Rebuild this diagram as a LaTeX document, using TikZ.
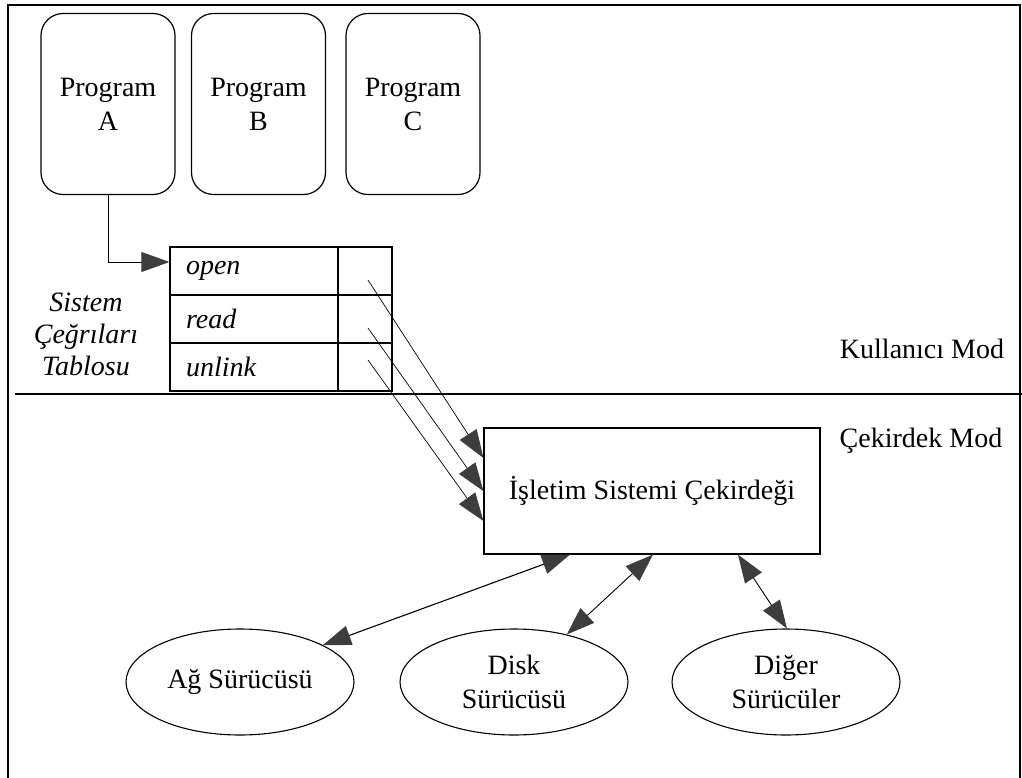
\documentclass[tikz,border=0pt]{standalone}
\usepackage{fontspec}
\setmainfont{Liberation Serif}
\usetikzlibrary{arrows.meta,shapes.geometric}
\tikzset{head/.tip={Triangle[length=28pt,width=20pt,fill=black!76,color=black!76]}}
\begin{document}
\begin{tikzpicture}[x=1pt,y=-1pt,
  txt/.style={font=\fontsize{28}{34}\selectfont},
  itxt/.style={font=\fontsize{28}{32}\selectfont\itshape},
  prog/.style={draw,line width=1.2pt,rounded corners=22pt,minimum width=134pt,
    minimum height=181pt,align=center,inner sep=0pt,txt},
  cell/.style={draw,line width=1.2pt,minimum height=48pt,inner sep=0pt},
  namecell/.style={cell,text width=136pt,inner xsep=16pt,align=left,itxt},
  ptrcell/.style={cell,minimum width=54pt},
  kernbox/.style={draw,line width=1.2pt,minimum width=336pt,minimum height=126pt,
    inner sep=0pt,txt},
  drv/.style={draw,ellipse,line width=1.1pt,minimum width=228pt,minimum height=106pt,
    inner sep=0pt,align=center,txt},
  call/.style={line width=0.7pt,-{head}},
  link/.style={line width=0.9pt,{head}-{head}},
  frame/.style={line width=1.2pt}
]
\useasboundingbox (0,0) rectangle (1022,778);

% outer frame and the user/kernel boundary
\draw[frame] (8,778) -- (8,5) -- (1020,5) -- (1020,778);
\draw[frame] (15,394) -- (1022,394);

% user programs
\node[prog] (progA) at (108,104) {Program\\A};
\node[prog] (progB) at (258.5,104) {Program\\B};
\node[prog] (progC) at (413,104) {Program\\C};

% system call table
\node[namecell] (open)   at (254,271) {open};
\node[namecell] (read)   at (254,319) {read};
\node[namecell] (unlink) at (254,367) {unlink};
\node[ptrcell] (popen)   at (365,271) {};
\node[ptrcell] (pread)   at (365,319) {};
\node[ptrcell] (punlink) at (365,367) {};
\node[itxt,align=center] (tabname) at (86,334) {Sistem\\Çeğrıları\\Tablosu};

% mode labels
\node[txt] (usermode) at (922,349) {Kullanıcı Mod};
\node[txt] (kernmode) at (921,441) {Çekirdek Mod};

% kernel and drivers
\node[kernbox] (kern) at (652,491) {İşletim Sistemi Çekirdeği};
\node[drv] (net)   at (240,682) {Ağ Sürücüsü};
\node[drv] (disk)  at (514,682) {Disk\\Sürücüsü};
\node[drv] (other) at (786,682) {Diğer\\Sürücüler};

% pointer entries leaving the table
\coordinate (c1) at (368,280);
\coordinate (c2) at (368,328);
\coordinate (c3) at (368,360);

% program A issues a call into the table
\draw[call,line width=1pt] (progA.south) |- ([yshift=9pt]open.west);

% table entries point into the kernel
\draw[call] (c1) -- ([yshift=33pt]kern.west);
\draw[call] (c2) -- ([yshift=0pt]kern.west);
\draw[call] (c3) -- ([yshift=-30pt]kern.west);

% kernel <-> drivers
\draw[link,line width=1.1pt] ([xshift=-82pt]kern.south) -- (net.24);
\draw[link] ([xshift=1pt]kern.south) -- (disk.42);
\draw[link] ([xshift=86pt]kern.south) -- (other.89);
\end{tikzpicture}
\end{document}
